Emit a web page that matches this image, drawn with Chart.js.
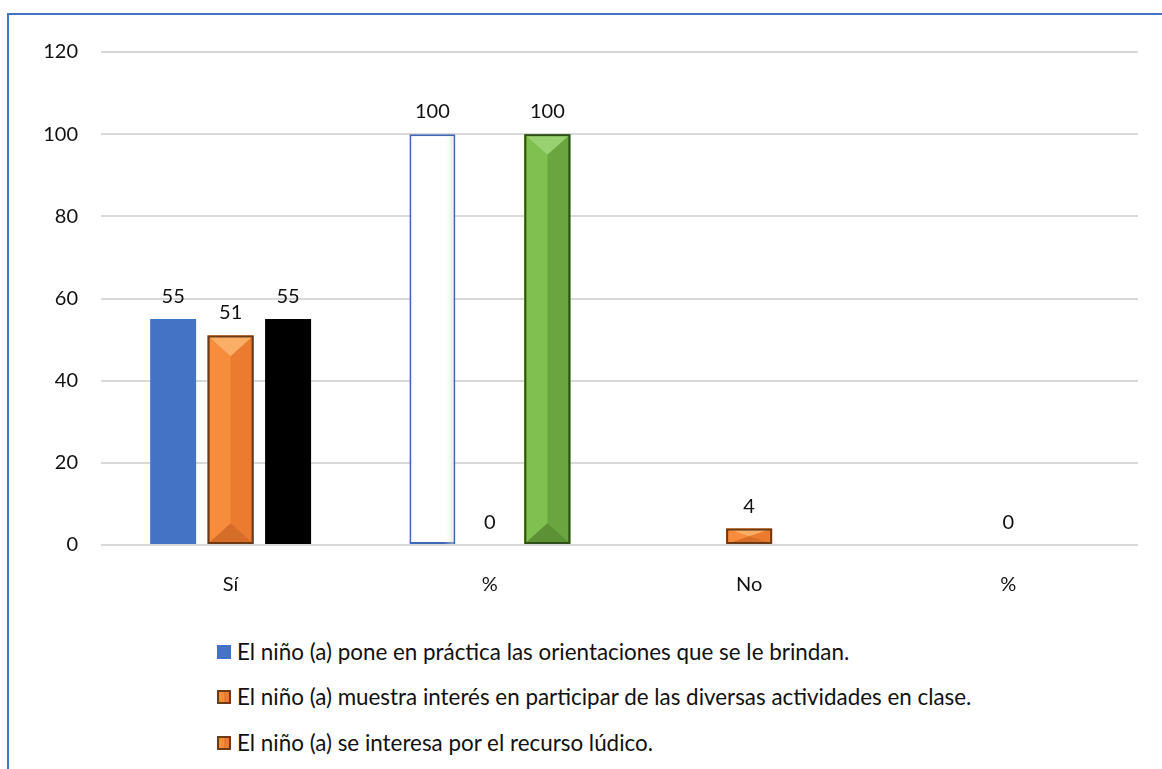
<!DOCTYPE html>
<html>
<head>
<meta charset="utf-8">
<script src="https://cdn.jsdelivr.net/npm/chart.js@4/dist/chart.umd.min.js"></script>
<style>
  body { margin: 0; background: #fff; font-family: Lato, 'Noto Sans', sans-serif; }
  #page { position: relative; width: 1162px; height: 769px; overflow: hidden; }
  #frame { position: absolute; left: 7px; top: 13px; right: -10px; bottom: -10px;
           border-left: 2px solid #4472C4; border-top: 2px solid #4472C4; }
  #chart { position: absolute; left: 0; top: 0; }
  .item { position: absolute; left: 217px; height: 26px; line-height: 26px; font-size: 22.4px; color: #111; white-space: nowrap; }
  .mark { display: inline-block; width: 14px; height: 14px; vertical-align: middle; margin-right: 6px; box-sizing: border-box; position: relative; top: -2px; }
</style>
</head>
<body>
<div id="page">
  <div id="frame"></div>
  <canvas id="chart" width="1162" height="620"></canvas>
  <div id="legend"></div>
</div>
<script>
const categories = ['Sí', '%', 'No', '%']
const practica = [55, 100, null, null]
const interes = [51, 0, 4, 0]
const ludico = [55, 100, null, null]
const seriesNames = [
    'El niño (a) pone en práctica las orientaciones que se le brindan.',
    'El niño (a) muestra interés en participar de las diversas actividades en clase.',
    'El niño (a) se interesa por el recurso lúdico.'
]
const yTicks = [0, 20, 40, 60, 80, 100, 120]

const FONT = "Lato, 'Noto Sans', sans-serif"
const ORANGE = {left: '#F78D3C', right: '#EB7B2F', top: '#FAAE66', bottom: '#D66E29', edge: '#6E3A14'}
const GREEN = {left: '#7FC050', right: '#6BA540', top: '#98D16F', bottom: '#5D9135', edge: '#2F4F1B'}

// bevel look of the office chart, drawn on top of the library's bars
const bevelPlugin = {
    id: 'bevel',
    afterDatasetsDraw(chart){
        const ctx = chart.ctx
        chart.data.datasets.forEach((ds, i) => {
            if (!ds.bevel) return
            chart.getDatasetMeta(i).data.forEach((bar, j) => {
                const look = ds.bevel[j]
                if (!look || ds.data[j] == null) return
                const w = bar.width, l = bar.x - w / 2, r = bar.x + w / 2
                const t = bar.y, b = bar.base, h = b - t
                if (h < 1) return
                const d = Math.min(w * 0.45, h / 2)
                ctx.save()
                ctx.fillStyle = look.right
                ctx.fillRect(l, t, w, h)
                ctx.fillStyle = look.left
                ctx.fillRect(l, t, w / 2, h)
                ctx.fillStyle = look.top
                ctx.beginPath(); ctx.moveTo(l, t); ctx.lineTo(r, t); ctx.lineTo(bar.x, t + d); ctx.closePath(); ctx.fill()
                ctx.fillStyle = look.bottom
                ctx.beginPath(); ctx.moveTo(l, b); ctx.lineTo(r, b); ctx.lineTo(bar.x, b - d); ctx.closePath(); ctx.fill()
                ctx.strokeStyle = look.edge
                ctx.lineWidth = 2
                ctx.strokeRect(l + 1, t + 1, w - 2, h - 2)
                ctx.restore()
            })
        })
    }
}

// white bar: faint grey shading on its right side, as in the original
const shadePlugin = {
    id: 'shade',
    afterDatasetsDraw(chart){
        const ctx = chart.ctx
        const bar = chart.getDatasetMeta(0).data[1]
        if (!bar) return
        const w = bar.width, l = bar.x - w / 2
        const g = ctx.createLinearGradient(l, 0, l + w, 0)
        g.addColorStop(0, 'rgba(255,255,255,0)')
        g.addColorStop(0.75, 'rgba(255,255,255,0)')
        g.addColorStop(1, 'rgba(200,200,200,0.6)')
        ctx.save()
        ctx.fillStyle = g
        ctx.fillRect(l + 2, bar.y + 2, w - 4, bar.base - bar.y - 2)
        ctx.restore()
    }
}

const valueLabels = {
    id: 'valueLabels',
    afterDatasetsDraw(chart){
        const ctx = chart.ctx
        ctx.save()
        ctx.font = '20px ' + FONT
        ctx.fillStyle = '#111'
        ctx.textAlign = 'center'
        ctx.textBaseline = 'alphabetic'
        chart.data.datasets.forEach((ds, i) => {
            chart.getDatasetMeta(i).data.forEach((bar, j) => {
                if (ds.data[j] == null) return
                ctx.fillText(String(ds.data[j]), bar.x, bar.y - 16)
            })
        })
        ctx.restore()
    }
}

const chart = new Chart('chart', {
    type: 'bar',
    data: {
        labels: categories,
        datasets: [
            {
                label: seriesNames[0],
                data: practica,
                backgroundColor: ['#4472C4', '#FFFFFF', '#4472C4', '#4472C4'],
                borderColor: ['#4472C4', '#3F69B5', '#4472C4', '#4472C4'],
                borderWidth: [0, 2, 0, 0],
                borderSkipped: false
            },
            {
                label: seriesNames[1],
                data: interes,
                backgroundColor: ORANGE.right,
                borderColor: ORANGE.edge,
                borderWidth: 0,
                bevel: [ORANGE, ORANGE, ORANGE, ORANGE]
            },
            {
                label: seriesNames[2],
                data: ludico,
                backgroundColor: ['#000000', GREEN.right, '#000000', '#000000'],
                borderWidth: 0,
                bevel: [null, GREEN, null, null]
            }
        ]
    },
    options: {
        responsive: false,
        animation: false,
        categoryPercentage: 0.665,
        barPercentage: 0.8,
        layout: {padding: {left: 10, top: 52, right: 24, bottom: 25}},
        plugins: {legend: {display: false}, tooltip: {enabled: false}},
        scales: {
            x: {
                grid: {display: false},
                border: {display: false},
                ticks: {color: '#111', font: {family: FONT, size: 20}, padding: 20},
                afterFit(scale){ scale.height = 50 }
            },
            y: {
                min: 0,
                max: 120,
                afterBuildTicks(scale){ scale.ticks = yTicks.map(v => ({value: v})) },
                grid: {color: '#D9D9D9', lineWidth: 2, drawTicks: false},
                border: {display: false},
                ticks: {color: '#111', font: {family: FONT, size: 20}, padding: 23},
                afterFit(scale){ scale.width = 91 }
            }
        }
    },
    plugins: [bevelPlugin, shadePlugin, valueLabels]
})

// legend, one entry per line like the original
const legend = document.getElementById('legend')
const rowsY = [652, 697, 743]
const markStyles = [
    'background:#4472C4;',
    'background:linear-gradient(90deg,#F78D3C 50%,#EB7B2F 50%);border:2px solid #6E3A14;',
    'background:linear-gradient(90deg,#F78D3C 50%,#EB7B2F 50%);border:2px solid #6E3A14;'
]
chart.data.datasets.forEach((ds, i) => {
    const row = document.createElement('div')
    row.className = 'item'
    row.style.top = (rowsY[i] - 13) + 'px'
    const mark = document.createElement('span')
    mark.className = 'mark'
    mark.style.cssText = markStyles[i]
    row.appendChild(mark)
    row.appendChild(document.createTextNode(ds.label))
    legend.appendChild(row)
})
</script>
</body>
</html>
